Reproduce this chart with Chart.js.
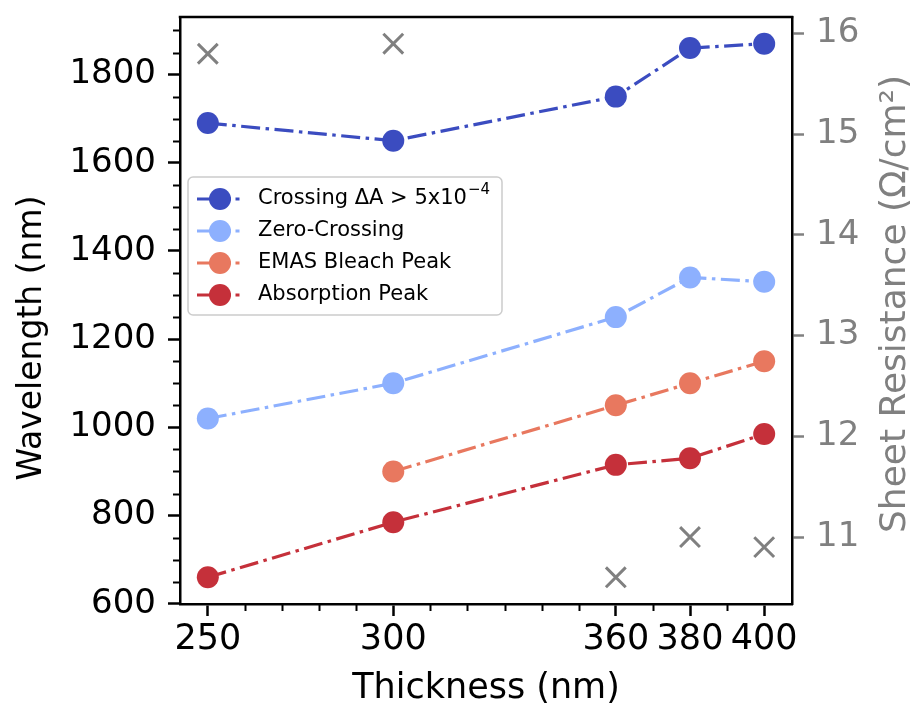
<!DOCTYPE html>
<html>
<head>
<meta charset="utf-8">
<script src="https://cdn.jsdelivr.net/npm/chart.js@4.4.1/dist/chart.umd.min.js"></script>
<style>
  html, body { margin: 0; padding: 0; background: #fff; }
  #wrap { width: 917px; height: 711px; }
</style>
</head>
<body>
<div id="wrap"><canvas id="chart" width="917" height="711"></canvas></div>
<script>
// data
const thickness = [250, 300, 360, 380, 400];
const crossingDA = [1690, 1650, 1750, 1860, 1870];
const zeroCrossing = [1020, 1100, 1250, 1340, 1330];
const emasThickness = [300, 360, 380, 400];
const emasBleach = [900, 1050, 1100, 1150];
const absorptionPeak = [660, 785, 915, 930, 985];
const sheetResistance = [15.8, 15.9, 10.6, 11.0, 10.9];

const xTicks = [250, 300, 360, 380, 400];
const leftTicks = [600, 800, 1000, 1200, 1400, 1600, 1800];
const rightTicks = [11, 12, 13, 14, 15, 16];

const colors = ['#3b4cc0', '#8db0fe', '#e8785f', '#c5303a'];
const grey = '#808080';
const FONT = 'DejaVu Sans';

function pts(xs, ys) {
    return xs.map(function (x, i) { return { x: x, y: ys[i] }; });
}

const dashDot = [19, 5.5, 3.5, 5.5];

function lineSet(label, data, color) {
    return {
        type: 'line',
        label: label,
        data: data,
        yAxisID: 'y',
        borderColor: color,
        backgroundColor: color,
        borderWidth: 3.2,
        borderDash: dashDot,
        pointRadius: 11,
        pointHoverRadius: 11,
        pointBorderWidth: 0,
        pointBackgroundColor: color,
        fill: false,
        tension: 0
    };
}

const legendItems = [
    { color: colors[0], text: 'Crossing \u0394A > 5x10', sup: '\u22124' },
    { color: colors[1], text: 'Zero-Crossing' },
    { color: colors[2], text: 'EMAS Bleach Peak' },
    { color: colors[3], text: 'Absorption Peak' }
];

function fixedTicks(list) {
    return function (s) { s.ticks = list.map(function (v) { return { value: v }; }); };
}

// frame top, minor ticks, legend and the axis titles on the sides
const extras = {
    id: 'extras',
    afterDraw: function (chart) {
        const ctx = chart.ctx;
        const a = chart.chartArea;
        const xs = chart.scales.x, ys = chart.scales.y;
        ctx.save();

        // top spine
        ctx.strokeStyle = '#000';
        ctx.lineWidth = 2.5;
        ctx.beginPath();
        ctx.moveTo(a.left - 1.25, a.top);
        ctx.lineTo(a.right + 1.25, a.top);
        ctx.stroke();

        // minor ticks
        ctx.lineWidth = 2;
        for (let v = 260; v <= 400; v += 10) {
            if (xTicks.indexOf(v) >= 0) continue;
            const px = Math.round(xs.getPixelForValue(v)) + 0.5;
            ctx.beginPath();
            ctx.moveTo(px, a.bottom);
            ctx.lineTo(px, a.bottom + 7);
            ctx.stroke();
        }
        for (let v = 650; v <= 1900; v += 50) {
            if (v % 200 === 0) continue;
            const py = Math.round(ys.getPixelForValue(v)) + 0.5;
            ctx.beginPath();
            ctx.moveTo(a.left, py);
            ctx.lineTo(a.left - 7, py);
            ctx.stroke();
        }

        // legend
        const bx = 188, by = 177, bw = 314, bh = 138;
        ctx.fillStyle = 'rgba(255,255,255,0.8)';
        ctx.strokeStyle = '#cccccc';
        ctx.lineWidth = 1.5;
        ctx.beginPath();
        ctx.roundRect(bx, by, bw, bh, 5);
        ctx.fill();
        ctx.stroke();

        ctx.textBaseline = 'middle';
        ctx.textAlign = 'left';
        legendItems.forEach(function (it, i) {
            const cy = 199 + i * 32;
            ctx.strokeStyle = it.color;
            ctx.lineWidth = 3;
            ctx.beginPath();
            ctx.moveTo(197, cy);
            ctx.lineTo(231, cy);
            ctx.moveTo(235.5, cy);
            ctx.lineTo(239.5, cy);
            ctx.stroke();
            ctx.fillStyle = it.color;
            ctx.beginPath();
            ctx.arc(220, cy, 11, 0, Math.PI * 2);
            ctx.fill();

            ctx.fillStyle = '#000';
            ctx.font = '21px "' + FONT + '"';
            ctx.fillText(it.text, 258, cy);
            if (it.sup) {
                const w = ctx.measureText(it.text).width;
                ctx.font = '15px "' + FONT + '"';
                ctx.fillText(it.sup, 258 + w + 1, cy - 9);
            }
        });

        ctx.textAlign = 'center';

        // left title
        ctx.save();
        ctx.translate(32, 338);
        ctx.rotate(-Math.PI / 2);
        ctx.fillStyle = '#000';
        ctx.font = '33px "' + FONT + '"';
        ctx.fillText('Wavelength (nm)', 0, 0);
        ctx.restore();

        // right title, reading upward like the left one
        ctx.translate(896, 304);
        ctx.rotate(-Math.PI / 2);
        ctx.fillStyle = grey;
        ctx.font = '36px "' + FONT + '"';
        ctx.fillText('Sheet Resistance (\u03a9/cm\u00b2)', 0, 0);
        ctx.restore();
    }
};

const ctx = document.getElementById('chart').getContext('2d');
new Chart(ctx, {
    data: {
        datasets: [
            lineSet('Crossing', pts(thickness, crossingDA), colors[0]),
            lineSet('Zero-Crossing', pts(thickness, zeroCrossing), colors[1]),
            lineSet('EMAS Bleach Peak', pts(emasThickness, emasBleach), colors[2]),
            lineSet('Absorption Peak', pts(thickness, absorptionPeak), colors[3]),
            {
                type: 'scatter',
                label: 'Sheet Resistance',
                data: pts(thickness, sheetResistance),
                yAxisID: 'y2',
                pointStyle: 'crossRot',
                pointRadius: 14,
                pointHoverRadius: 14,
                borderWidth: 3,
                borderColor: grey,
                backgroundColor: grey
            }
        ]
    },
    options: {
        responsive: false,
        devicePixelRatio: 1,
        animation: false,
        events: [],
        layout: { padding: { top: 15, left: 0, right: 0, bottom: 0 } },
        plugins: {
            legend: { display: false },
            tooltip: { enabled: false }
        },
        scales: {
            x: {
                type: 'linear',
                min: 242.5,
                max: 407.5,
                afterBuildTicks: fixedTicks(xTicks),
                afterFit: function (s) { s.height = 107; s.paddingLeft = 0; s.paddingRight = 0; },
                grid: { drawOnChartArea: false, drawTicks: true, tickLength: 12, tickWidth: 2.5, tickColor: '#000' },
                border: { display: true, color: '#000', width: 2.5 },
                ticks: { color: '#000', font: { family: FONT, size: 35 }, padding: 3, maxRotation: 0, autoSkip: false,
                         callback: function (v) { return String(v); } },
                title: { display: true, text: 'Thickness (nm)', color: '#000', font: { family: FONT, size: 35 }, padding: { top: 0, bottom: 1 } }
            },
            y: {
                type: 'linear',
                position: 'left',
                min: 599.5,
                max: 1930.5,
                afterBuildTicks: fixedTicks(leftTicks),
                afterFit: function (s) { s.width = 180; s.paddingTop = 0; s.paddingBottom = 0; },
                grid: { drawOnChartArea: false, drawTicks: true, tickLength: 12, tickWidth: 2.5, tickColor: '#000' },
                border: { display: true, color: '#000', width: 2.5 },
                ticks: { color: '#000', font: { family: FONT, size: 34 }, padding: 12, autoSkip: false,
                         callback: function (v) { return String(v); } }
            },
            y2: {
                type: 'linear',
                position: 'right',
                min: 10.335,
                max: 16.165,
                afterBuildTicks: fixedTicks(rightTicks),
                afterFit: function (s) { s.width = 125; s.paddingTop = 0; s.paddingBottom = 0; },
                grid: { drawOnChartArea: false, drawTicks: true, tickLength: 12, tickWidth: 2.5, tickColor: grey },
                border: { display: true, color: '#000', width: 2.5 },
                ticks: { color: grey, font: { family: FONT, size: 34 }, padding: 12, autoSkip: false,
                         callback: function (v) { return String(v); } }
            }
        }
    },
    plugins: [extras]
});
</script>
</body>
</html>
